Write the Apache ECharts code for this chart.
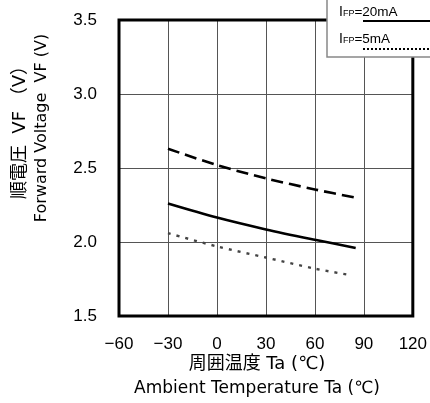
<!DOCTYPE html>
<html><head><meta charset="utf-8">
<script src="https://cdn.jsdelivr.net/npm/echarts@6/dist/echarts.min.js"></script>
<style>html,body{margin:0;padding:0;background:#fff}#c{width:430px;height:403px}</style>
</head><body><div id="c"></div>
<script>
const xTicks = [-60, -30, 0, 30, 60, 90, 120];
const yTicks = [1.5, 2.0, 2.5, 3.0, 3.5];
const tempsHigh = [-30, 0, 30, 60, 85];
const vfHigh = [2.63, 2.52, 2.43, 2.355, 2.30];
const temps20 = [-30, 0, 30, 60, 85];
const vf20 = [2.26, 2.165, 2.085, 2.015, 1.96];
const temps5 = [-30, 0, 30, 60, 80];
const vf5 = [2.06, 1.97, 1.895, 1.82, 1.78];
const legendLabels = ['20mA', '5mA'];

const pair = (xs, ys) => xs.map((x, i) => [x, ys[i]]);
const FONT = '"Liberation Sans", Arial, "Noto Sans CJK JP", sans-serif';
const JFONT = '"DejaVu Sans", "Noto Sans CJK JP", sans-serif';

const chart = echarts.init(document.getElementById('c'));
chart.setOption({
  animation: false,
  backgroundColor: '#fff',
  grid: { left: 119, top: 20, right: 17, bottom: 87, show: true, borderColor: '#000', borderWidth: 3, backgroundColor: 'transparent', z: 10 },
  xAxis: {
    type: 'value', min: xTicks[0], max: xTicks[xTicks.length - 1], interval: 30,
    axisLine: { show: false }, axisTick: { show: false },
    splitLine: { show: true, lineStyle: { color: '#555', width: 1 } },
    axisLabel: { margin: 20, fontSize: 17, color: '#000', fontFamily: FONT,
      formatter: v => String(v).replace('-', '\u2212') }
  },
  yAxis: {
    type: 'value', min: yTicks[0], max: yTicks[yTicks.length - 1], interval: 0.5,
    axisLine: { show: false }, axisTick: { show: false },
    splitLine: { show: true, lineStyle: { color: '#555', width: 1 } },
    axisLabel: { margin: 22, fontSize: 17, color: '#000', fontFamily: FONT,
      formatter: v => v.toFixed(1) }
  },
  series: [
    { type: 'line', data: pair(tempsHigh, vfHigh), smooth: 0.3, symbol: 'none',
      lineStyle: { color: '#000', width: 2.6, type: [12, 6] } },
    { type: 'line', data: pair(temps20, vf20), smooth: 0.3, symbol: 'none',
      lineStyle: { color: '#000', width: 2.6 } },
    { type: 'line', data: pair(temps5, vf5), smooth: 0.3, symbol: 'none',
      lineStyle: { color: '#444', width: 2.4, type: [3, 6] } }
  ],
  graphic: [
    { type: 'rect', shape: { x: 327, y: -5, width: 110, height: 62 },
      style: { fill: '#fff', stroke: '#888', lineWidth: 1.5 }, z: 100 },
    { type: 'text', x: 339, y: 12, z: 101,
      style: { text: '{i|I}{s|FP}{n|=' + legendLabels[0] + '}', verticalAlign: 'middle',
        rich: { i: { fontSize: 14, fontFamily: FONT, fill: '#000' },
                s: { fontSize: 9, fontFamily: FONT, fill: '#000', padding: [3, 0, 0, 0] },
                n: { fontSize: 13.5, fontFamily: FONT, fill: '#000' } } } },
    { type: 'line', shape: { x1: 363, y1: 21, x2: 430, y2: 21 }, z: 101,
      style: { stroke: '#000', lineWidth: 2.2 } },
    { type: 'text', x: 339, y: 39, z: 101,
      style: { text: '{i|I}{s|FP}{n|=' + legendLabels[1] + '}', verticalAlign: 'middle',
        rich: { i: { fontSize: 14, fontFamily: FONT, fill: '#000' },
                s: { fontSize: 9, fontFamily: FONT, fill: '#000', padding: [3, 0, 0, 0] },
                n: { fontSize: 13.5, fontFamily: FONT, fill: '#000' } } } },
    { type: 'line', shape: { x1: 363, y1: 49, x2: 430, y2: 49 }, z: 101,
      style: { stroke: '#000', lineWidth: 2, lineDash: [2, 2] } },
    { type: 'text', x: 20, y: 128, rotation: Math.PI / 2,
      style: { text: '順電圧  VF （V）', fontSize: 18, fontFamily: JFONT, fill: '#000', align: 'center', verticalAlign: 'middle' } },
    { type: 'text', x: 42, y: 128, rotation: Math.PI / 2,
      style: { text: 'Forward Voltage  VF (V)', fontSize: 16, fontFamily: JFONT, fill: '#000', align: 'center', verticalAlign: 'middle' } },
    { type: 'text', x: 257, y: 364,
      style: { text: '周囲温度 Ta (℃)', fontSize: 18, fontFamily: JFONT, fill: '#000', align: 'center', verticalAlign: 'middle' } },
    { type: 'text', x: 257, y: 389,
      style: { text: 'Ambient Temperature Ta (℃)', fontSize: 17, fontFamily: JFONT, fill: '#000', align: 'center', verticalAlign: 'middle' } }
  ]
});
</script></body></html>
